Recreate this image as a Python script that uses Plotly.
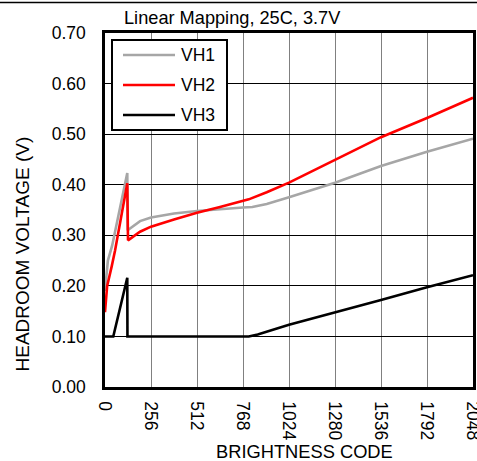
import plotly.graph_objects as go

# ---- data ----
series_names = ["VH1", "VH2", "VH3"]
series_colors = ["#A6A6A6", "#FF0000", "#000000"]

vh1_code = [0, 16, 40, 124, 126, 160, 195, 256, 384, 512, 640, 768, 820, 900, 1024, 1280, 1536, 1792, 2048]
vh1_volt = [0.19, 0.25, 0.28, 0.423, 0.31, 0.319, 0.328, 0.335, 0.343, 0.348, 0.352, 0.355, 0.356, 0.362, 0.375, 0.404, 0.437, 0.465, 0.491]

vh2_code = [0, 12, 37, 56, 124, 128, 195, 256, 384, 512, 640, 768, 800, 900, 1024, 1280, 1536, 1792, 2048]
vh2_volt = [0.148, 0.20, 0.238, 0.27, 0.403, 0.29, 0.307, 0.317, 0.331, 0.3445, 0.356, 0.367, 0.371, 0.385, 0.404, 0.449, 0.494, 0.532, 0.572]

vh3_code = [0, 46, 124, 125, 800, 850, 1024, 1280, 1536, 1792, 2048]
vh3_volt = [0.10, 0.10, 0.216, 0.10, 0.10, 0.104, 0.123, 0.147, 0.172, 0.197, 0.221]

x_ticks = [0, 256, 512, 768, 1024, 1280, 1536, 1792, 2048]
y_ticks = [0.0, 0.1, 0.2, 0.3, 0.4, 0.5, 0.6, 0.7]
y_labels = ["0.00", "0.10", "0.20", "0.30", "0.40", "0.50", "0.60", "0.70"]

title_text = "Linear Mapping, 25C, 3.7V"
x_title = "BRIGHTNESS CODE"
y_title = "HEADROOM VOLTAGE (V)"

# ---- layout geometry (pixels) ----
W, H = 477, 461
L, R, T, B = 105, 473, 33, 387
FONT = "Liberation Sans, Arial, sans-serif"
FS = 18


def px(x):
    return (x - L) / (R - L)


def py(y):
    return (B - y) / (B - T)


fig = go.Figure()
for name, color, xs, ys in zip(series_names, series_colors,
                               [vh1_code, vh2_code, vh3_code],
                               [vh1_volt, vh2_volt, vh3_volt]):
    fig.add_trace(go.Scatter(x=xs, y=ys, mode="lines", name=name,
                             line=dict(color=color, width=2.6),
                             showlegend=False))

shapes = []
annotations = []

# top rule across the image
shapes.append(dict(type="line", xref="paper", yref="paper",
                   x0=px(0), x1=px(W), y0=py(2.5), y1=py(2.5),
                   line=dict(color="black", width=1.6), layer="above"))

# manual legend
shapes.append(dict(type="rect", xref="paper", yref="paper",
                   x0=px(112), x1=px(227), y0=py(130), y1=py(40),
                   fillcolor="white", line=dict(color="black", width=2), layer="above"))
for i, (name, color) in enumerate(zip(series_names, series_colors)):
    yy = 55 + 30 * i
    shapes.append(dict(type="line", xref="paper", yref="paper",
                       x0=px(123), x1=px(175), y0=py(yy), y1=py(yy),
                       line=dict(color=color, width=2.6), layer="above"))
    annotations.append(dict(text=name, xref="paper", yref="paper",
                            x=px(179), y=py(yy), xanchor="left", yanchor="middle",
                            showarrow=False, font=dict(size=17.5, color="black", family=FONT)))

annotations.append(dict(text=title_text, xref="paper", yref="paper",
                        x=px(122), y=py(18.5), xanchor="left", yanchor="middle",
                        showarrow=False, font=dict(size=18.2, color="black", family=FONT)))
annotations.append(dict(text=x_title, xref="paper", yref="paper",
                        x=px(304), y=py(451), xanchor="center", yanchor="middle",
                        showarrow=False, font=dict(size=18.3, color="black", family=FONT)))
annotations.append(dict(text=y_title, xref="paper", yref="paper",
                        x=px(21.5), y=py(254), xanchor="center", yanchor="middle",
                        textangle=-90,
                        showarrow=False, font=dict(size=19, color="black", family=FONT)))

fig.update_layout(
    width=W, height=H,
    margin=dict(l=L, r=W - R, t=T, b=H - B, pad=0, autoexpand=False),
    paper_bgcolor="white", plot_bgcolor="white",
    font=dict(family=FONT, size=FS, color="black"),
    shapes=shapes, annotations=annotations,
    showlegend=False,
)
fig.update_xaxes(range=[0, 2048], tickvals=x_ticks, ticktext=[str(v) for v in x_ticks],
                 tickangle=90, showgrid=True, gridcolor="#808080", gridwidth=1.3,
                 showline=True, linecolor="black", linewidth=2.5, mirror=True,
                 zeroline=False, ticks="", ticklabelstandoff=8, automargin=False,
                 ticklabeloverflow="allow",
                 tickfont=dict(size=17.5, family=FONT, color="black"))
fig.update_yaxes(range=[0, 0.7], tickvals=y_ticks, ticktext=y_labels,
                 showgrid=True, gridcolor="black", gridwidth=1,
                 showline=True, linecolor="black", linewidth=2.5, mirror=True,
                 zeroline=False, ticks="", ticklabelstandoff=13, automargin=False,
                 tickfont=dict(size=17.5, family=FONT, color="black"))

post = "document.body.style.margin='0';document.body.style.overflow='hidden';"
fig.write_html("out.html", config={"displayModeBar": False}, post_script=post)
